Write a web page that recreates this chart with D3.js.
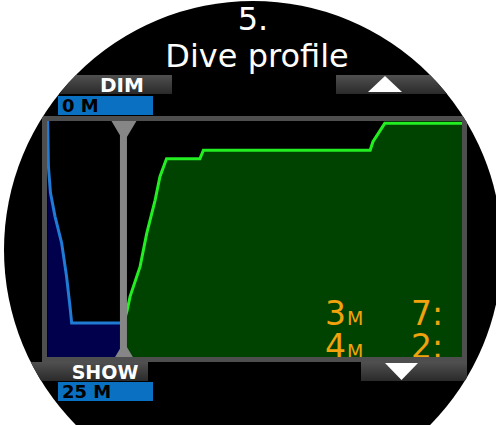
<!DOCTYPE html>
<html>
<head>
<meta charset="utf-8">
<script src="https://cdn.jsdelivr.net/npm/d3@7"></script>
<style>
body { margin: 0; background: #fff; }
svg { display: block; }
</style>
</head>
<body>
<div id="screen"></div>
<script>
var width = 496
var height = 425

// profile before the cursor: minutes / metres
var blueTime  = [0.1, 0.2, 0.5, 1.15, 2.1, 2.8, 3.3, 3.55, 11.0]
var blueDepth = [0, 4.8, 7.6, 10.1, 12.9, 16.4, 19.6, 21.4, 21.4]

// profile after the cursor
var greenTime  = [11.0, 11.55, 11.95, 13.4, 14.35, 15.55, 16.25, 17.2, 22.0, 22.5, 46.5, 46.9, 48.6, 60]
var greenDepth = [21.4, 20.0, 18.6, 15.4, 11.9, 8.4, 5.9, 4.0, 4.0, 3.1, 3.1, 2.2, 0.25, 0.25]

var cursorTime = 11.0
var timeDomain = [0, 60]
var depthDomain = [0, 25]

var stopDepths = ['3', '4']
var stopTimes = ['7:', '2:']

var svg = d3.select('#screen')
            .append('svg')
            .attr('width', width)
            .attr('height', height);

var defs = svg.append('defs');

defs.append('clipPath').attr('id', 'face')
    .append('circle').attr('cx', 253).attr('cy', 250).attr('r', 249);

defs.append('clipPath').attr('id', 'plot')
    .append('rect').attr('x', 47).attr('y', 121).attr('width', 417).attr('height', 236);

var grad = defs.append('linearGradient').attr('id', 'btn')
               .attr('x1', 0).attr('y1', 0).attr('x2', 0).attr('y2', 1);
grad.append('stop').attr('offset', '0%').attr('stop-color', '#505050');
grad.append('stop').attr('offset', '100%').attr('stop-color', '#2a2a2a');

var face = svg.append('g').attr('clip-path', 'url(#face)');

face.append('rect')
    .attr('width', width).attr('height', height)
    .attr('fill', '#000');

// title
face.append('text')
    .attr('x', 253).attr('y', 30)
    .attr('text-anchor', 'middle')
    .attr('font-family', 'DejaVu Sans').attr('font-size', 32)
    .attr('fill', '#fff')
    .text('5.');

face.append('text')
    .attr('x', 257).attr('y', 67)
    .attr('text-anchor', 'middle')
    .attr('font-family', 'DejaVu Sans').attr('font-size', 32)
    .attr('fill', '#fff')
    .text('Dive profile');

// buttons
function bar(x, y, w, h) {
    face.append('rect')
        .attr('x', x).attr('y', y)
        .attr('width', w).attr('height', h)
        .attr('fill', 'url(#btn)');
}

bar(0, 75, 172, 19);
bar(336, 75, 160, 19);
bar(0, 362, 148, 19);
bar(361, 362, 106, 19);

face.append('path')
    .attr('d', 'M368,92L385,76L402,92Z')
    .attr('fill', '#fff');

face.append('path')
    .attr('d', 'M385,363L418,363L401.5,380Z')
    .attr('fill', '#fff');

face.append('text')
    .attr('x', 122).attr('y', 92)
    .attr('text-anchor', 'middle')
    .attr('font-family', 'DejaVu Sans').attr('font-weight', 'bold').attr('font-size', 20)
    .attr('fill', '#fff')
    .text('DIM');

face.append('text')
    .attr('x', 105).attr('y', 379)
    .attr('text-anchor', 'middle')
    .attr('font-family', 'DejaVu Sans').attr('font-weight', 'bold').attr('font-size', 19)
    .attr('fill', '#fff')
    .text('SHOW');

// depth range boxes
var rangeBoxes = [{ v: depthDomain[0], y: 96 }, { v: depthDomain[1], y: 382 }];

face.selectAll('rect.range')
    .data(rangeBoxes)
    .enter().append('rect')
    .attr('class', 'range')
    .attr('x', 58).attr('y', function(d){ return d.y; })
    .attr('width', 95).attr('height', 19)
    .attr('fill', '#0a71c2');

face.selectAll('text.range')
    .data(rangeBoxes)
    .enter().append('text')
    .attr('class', 'range')
    .attr('x', 62).attr('y', function(d){ return d.y + 16; })
    .attr('font-family', 'DejaVu Sans').attr('font-weight', 'bold').attr('font-size', 18)
    .attr('fill', '#000')
    .text(function(d){ return d.v + ' M'; });

// plot
var x = d3.scaleLinear().domain(timeDomain).range([47, 464]);
var y = d3.scaleLinear().domain(depthDomain).range([121, 357]);

var blueData = blueTime.map(function(t, i){ return { t: t, d: blueDepth[i] }; });
var greenData = greenTime.map(function(t, i){ return { t: t, d: greenDepth[i] }; });

var area = d3.area()
             .x(function(d){ return x(d.t); })
             .y0(y(depthDomain[1]) + 5)
             .y1(function(d){ return y(d.d); });

var line = d3.line()
             .x(function(d){ return x(d.t); })
             .y(function(d){ return y(d.d); });

var plot = face.append('g').attr('clip-path', 'url(#plot)');

plot.append('path').datum(blueData)
    .attr('d', area).attr('fill', '#00004c');
plot.append('path').datum(blueData)
    .attr('d', line).attr('fill', 'none')
    .attr('stroke', '#1f7bd3').attr('stroke-width', 3);

plot.append('path').datum(greenData)
    .attr('d', area).attr('fill', '#004200');
plot.append('path').datum(greenData)
    .attr('d', line).attr('fill', 'none')
    .attr('stroke', '#22ee22').attr('stroke-width', 3);

// stop readouts
var rows = plot.selectAll('g.stop')
               .data(stopDepths)
               .enter().append('g')
               .attr('class', 'stop')
               .attr('font-family', 'DejaVu Sans')
               .attr('fill', '#f0a30c');

var depthText = rows.append('text')
    .attr('x', 325).attr('y', function(d, i){ return 325 + i * 33; })
    .attr('font-size', 33)
    .text(function(d){ return d; });
depthText.append('tspan')
    .attr('font-size', 19).attr('dx', 1)
    .text('M');

rows.append('text')
    .attr('x', 411).attr('y', function(d, i){ return 325 + i * 33; })
    .attr('font-size', 33)
    .text(function(d, i){ return stopTimes[i]; });

// cursor
var cx = x(cursorTime);
plot.append('rect')
    .attr('x', cx - 3.5).attr('y', 121)
    .attr('width', 7).attr('height', 236)
    .attr('fill', '#868686');
plot.append('path')
    .attr('d', 'M' + (cx - 12) + ',121L' + (cx + 13) + ',121L' + (cx + 0.5) + ',142Z')
    .attr('fill', '#868686');
plot.append('path')
    .attr('d', 'M' + (cx - 9) + ',358L' + (cx + 10) + ',358L' + (cx + 0.5) + ',342Z')
    .attr('fill', '#868686');

// frame
face.append('rect')
    .attr('x', 44.5).attr('y', 118.5)
    .attr('width', 420).attr('height', 241)
    .attr('fill', 'none')
    .attr('stroke', '#4e4e4e').attr('stroke-width', 5);
</script>
</body>
</html>
